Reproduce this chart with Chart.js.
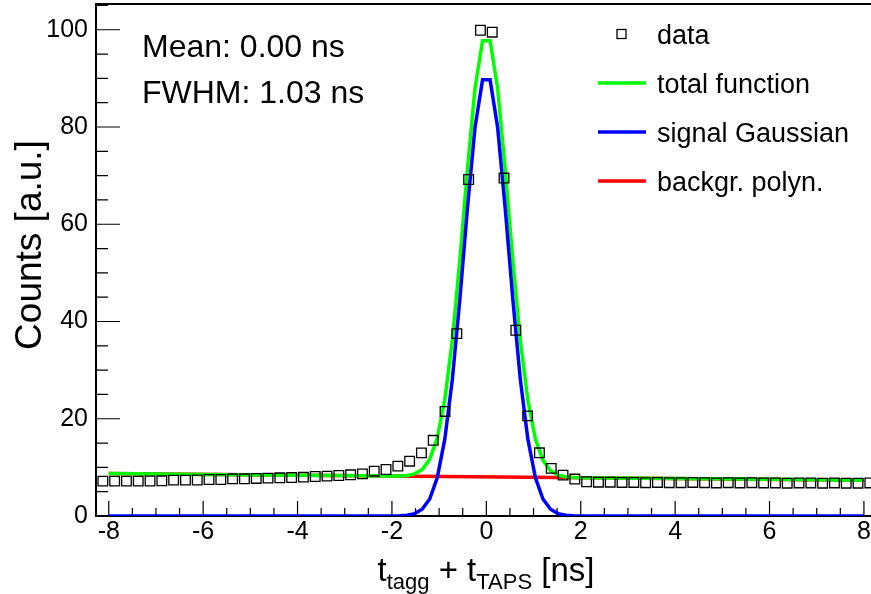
<!DOCTYPE html>
<html>
<head>
<meta charset="utf-8">
<script src="https://cdn.jsdelivr.net/npm/chart.js@4.4.1/dist/chart.umd.min.js"></script>
<style>
    html, body { margin: 0; padding: 0; background: #fff; }
    #wrap { position: relative; width: 871px; height: 594px; }
</style>
</head>
<body>
<div id="wrap"><canvas id="chart-timing" width="871" height="594"></canvas></div>
<script>
// Time spectrum, 0.25 ns bins
const binCenters = [
    -8.125, -7.875, -7.625, -7.375, -7.125, -6.875, -6.625, -6.375, -6.125, -5.875,
    -5.625, -5.375, -5.125, -4.875, -4.625, -4.375, -4.125, -3.875, -3.625, -3.375,
    -3.125, -2.875, -2.625, -2.375, -2.125, -1.875, -1.625, -1.375, -1.125, -0.875,
    -0.625, -0.375, -0.125, 0.125, 0.375, 0.625, 0.875, 1.125, 1.375, 1.625,
    1.875, 2.125, 2.375, 2.625, 2.875, 3.125, 3.375, 3.625, 3.875, 4.125,
    4.375, 4.625, 4.875, 5.125, 5.375, 5.625, 5.875, 6.125, 6.375, 6.625,
    6.875, 7.125, 7.375, 7.625, 7.875, 8.125,
];
const counts = [
    7.17, 7.17, 7.17, 7.17, 7.2, 7.24, 7.38, 7.38, 7.4, 7.51,
    7.51, 7.65, 7.65, 7.72, 7.79, 7.85, 7.92, 7.99, 8.13, 8.2,
    8.33, 8.47, 8.67, 9.22, 9.56, 10.25, 11.27, 12.98, 15.57, 21.5,
    37.5, 69.2, 99.9, 99.5, 69.5, 38.2, 20.6, 13.0, 9.8, 8.4,
    7.6, 7.05, 6.95, 6.95, 6.9, 6.9, 6.85, 6.9, 6.85, 6.85,
    6.9, 6.85, 6.8, 6.85, 6.8, 6.85, 6.8, 6.8, 6.75, 6.8,
    6.8, 6.75, 6.8, 6.75, 6.75, 6.8,
];

// Fit curves as drawn
const fitX = [
    -8, -6, -4, -2, -1.84, -1.68, -1.52, -1.36, -1.2, -1.04, -0.88, -0.72, -0.56, -0.4, -0.24, -0.08,
    0.08, 0.24, 0.4, 0.56, 0.72, 0.88, 1.04, 1.2, 1.36, 1.52, 1.68, 1.84, 2, 4, 6, 8,
];
const totalFit = [
    8.73, 8.56, 8.39, 8.22, 8.25, 8.34, 8.67, 9.55, 11.65, 16.01, 23.92, 36.21, 52.8, 71.38, 87.97, 97.76,
    97.74, 87.93, 71.32, 52.7, 36.09, 23.78, 15.83, 11.45, 9.31, 8.41, 8.06, 7.93, 7.88, 7.71, 7.54, 7.37,
];
const signalFit = [
    0, 0, 0, 0, 0.04, 0.15, 0.49, 1.38, 3.5, 7.87, 15.8, 28.1, 44.7, 63.3, 79.9, 89.7,
    89.7, 79.9, 63.3, 44.7, 28.1, 15.8, 7.87, 3.5, 1.38, 0.49, 0.15, 0.04, 0, 0, 0, 0,
];
const bgX = [-8, 8];
const bgFit = [8.73, 7.37];

const xTicks = [-8, -6, -4, -2, 0, 2, 4, 6, 8];
const yTicks = [0, 20, 40, 60, 80, 100];

const legendItems = [
    { label: 'data', kind: 'box', color: '#000' },
    { label: 'total function', kind: 'line', color: '#00ff00' },
    { label: 'signal Gaussian', kind: 'line', color: '#0000ff' },
    { label: 'backgr. polyn.', kind: 'line', color: '#ff0000' },
];
const statLines = ['Mean: 0.00 ns', 'FWHM: 1.03 ns'];

const FONT = '"Liberation Sans", Arial, Helvetica, sans-serif';

function pairs(xs, ys) {
    return xs.map((x, i) => ({ x, y: ys[i] }));
}

function noPadding(s) {
    s.paddingTop = 0;
    s.paddingBottom = 0;
    s.paddingLeft = 0;
    s.paddingRight = 0;
}

// ROOT-like frame: axes, top line and inward ticks
const frameTicks = {
    id: 'frameTicks',
    beforeDatasetsDraw(chart) {
        const { ctx, chartArea: a, scales: { x, y } } = chart;
        ctx.save();
        ctx.strokeStyle = '#000';
        ctx.lineWidth = 1.2;
        ctx.beginPath();
        for (let v = -8; v <= 8.001; v += 0.5) {
            const px = x.getPixelForValue(v);
            const len = Math.abs(v % 2) < 1e-6 ? 15 : 8;
            ctx.moveTo(px, a.bottom);
            ctx.lineTo(px, a.bottom - len);
        }
        for (let v = 0; v <= y.max; v += 5) {
            const py = y.getPixelForValue(v);
            const len = v % 20 === 0 ? 24 : 12;
            ctx.moveTo(a.left, py);
            ctx.lineTo(a.left + len, py);
        }
        ctx.stroke();
        ctx.lineWidth = 2;
        ctx.beginPath();
        ctx.moveTo(a.right + 5, a.top);
        ctx.lineTo(a.left, a.top);
        ctx.lineTo(a.left, a.bottom);
        ctx.lineTo(a.right + 5, a.bottom);
        ctx.stroke();
        ctx.restore();
    },
    afterDraw(chart) {
        const { ctx } = chart;
        ctx.save();
        ctx.fillStyle = '#000';

        // stats text
        ctx.font = `32px ${FONT}`;
        ctx.textBaseline = 'alphabetic';
        ctx.textAlign = 'left';
        ctx.fillText(statLines[0], 142, 57);
        ctx.fillText(statLines[1], 142, 103);

        // legend
        ctx.font = `27px ${FONT}`;
        legendItems.forEach((item, i) => {
            const cy = 34 + i * 49;
            if (item.kind === 'box') {
                ctx.strokeStyle = item.color;
                ctx.lineWidth = 1.3;
                ctx.strokeRect(617, cy - 4.5, 9, 9);
            } else {
                ctx.strokeStyle = item.color;
                ctx.lineWidth = 3.5;
                ctx.beginPath();
                ctx.moveTo(598, cy);
                ctx.lineTo(646, cy);
                ctx.stroke();
            }
            ctx.fillText(item.label, 657, cy + 10);
        });

        // x title with subscripts
        const parts = [
            ['t', false], ['tagg', true], [' + t', false], ['TAPS', true], [' [ns]', false],
        ];
        const mainFont = `33px ${FONT}`;
        const subFont = `22px ${FONT}`;
        let total = 0;
        parts.forEach(([s, sub]) => {
            ctx.font = sub ? subFont : mainFont;
            total += ctx.measureText(s).width;
        });
        let px = 486 - total / 2;
        parts.forEach(([s, sub]) => {
            ctx.font = sub ? subFont : mainFont;
            ctx.fillText(s, px, sub ? 589 : 581);
            px += ctx.measureText(s).width;
        });

        // y title
        ctx.translate(41, 245);
        ctx.rotate(-Math.PI / 2);
        ctx.font = `37px ${FONT}`;
        ctx.textAlign = 'center';
        ctx.fillText('Counts [a.u.]', 0, 0);
        ctx.restore();
    },
};

const ctx = document.getElementById('chart-timing');

new Chart(ctx, {
    type: 'scatter',
    data: {
        datasets: [
            {
                label: 'data',
                data: pairs(binCenters, counts),
                pointStyle: 'rect',
                pointRadius: 6.8,
                pointBorderWidth: 1.3,
                pointBorderColor: '#000',
                pointBackgroundColor: 'rgba(0,0,0,0)',
                showLine: false,
                order: 0,
            },
            {
                label: 'signal Gaussian',
                data: pairs(fitX, signalFit),
                showLine: true,
                borderColor: '#0000ff',
                borderWidth: 3.5,
                pointRadius: 0,
                order: 1,
            },
            {
                label: 'total function',
                data: pairs(fitX, totalFit),
                showLine: true,
                borderColor: '#00ff00',
                borderWidth: 3.5,
                pointRadius: 0,
                order: 2,
            },
            {
                label: 'backgr. polyn.',
                data: pairs(bgX, bgFit),
                showLine: true,
                borderColor: '#ff0000',
                borderWidth: 3.5,
                pointRadius: 0,
                order: 3,
            },
        ],
    },
    options: {
        responsive: false,
        animation: false,
        devicePixelRatio: 1,
        layout: { autoPadding: false, padding: { top: 4, right: 0, left: 0, bottom: 0 } },
        plugins: {
            legend: { display: false },
            tooltip: { enabled: false },
        },
        scales: {
            x: {
                type: 'linear',
                min: -8.27,
                max: 8.15,
                afterBuildTicks: s => { s.ticks = xTicks.map(v => ({ value: v })); },
                afterFit: s => { s.height = 78; noPadding(s); },
                ticks: {
                    includeBounds: false,
                    color: '#000',
                    font: { family: FONT, size: 25 },
                    padding: 1,
                    maxRotation: 0,
                    autoSkip: false,
                },
                grid: { display: false, drawTicks: false },
                border: { display: false },
            },
            y: {
                type: 'linear',
                min: 0,
                max: 105.3,
                afterBuildTicks: s => { s.ticks = yTicks.map(v => ({ value: v })); },
                afterFit: s => { s.width = 96; noPadding(s); },
                ticks: {
                    includeBounds: false,
                    color: '#000',
                    font: { family: FONT, size: 25 },
                    padding: 8,
                    autoSkip: false,
                },
                grid: { display: false, drawTicks: false },
                border: { display: false },
            },
        },
    },
    plugins: [frameTicks],
});
</script>
</body>
</html>
